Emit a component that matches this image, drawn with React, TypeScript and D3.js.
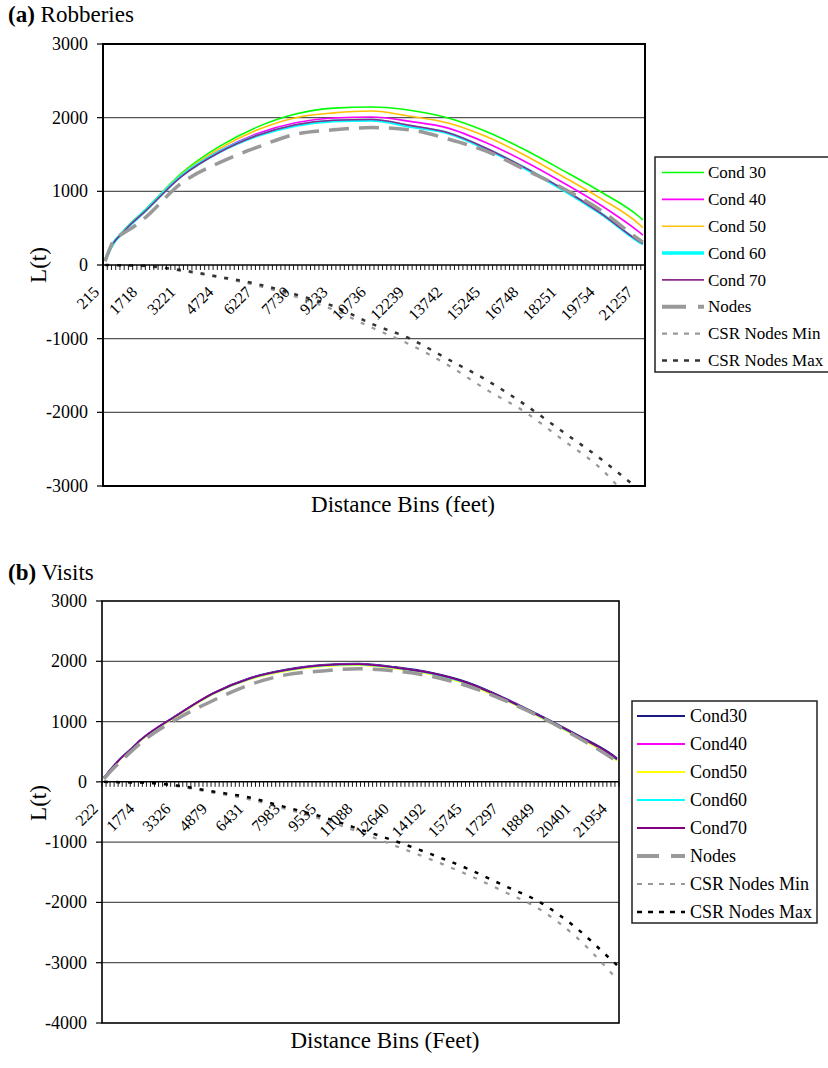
import * as d3 from "d3";

const FONT = "Liberation Serif, DejaVu Serif, Times New Roman, serif";

// ---------- (a) Robberies ----------
const binStartA = 215;
const binStepA = 1503 / 9;
const binCountA = 128;
const tickLabelsA = ["215", "1718", "3221", "4724", "6227", "7730", "9233", "10736", "12239", "13742", "15245", "16748", "18251", "19754", "21257"];
const feetA = [215, 549, 883, 1217, 1718, 3221, 4724, 6227, 7730, 9233, 10736, 12239, 13742, 15245, 16748, 18251, 19754, 21257, 21424];
const cond30A = [70, 305, 440, 565, 725, 1245, 1610, 1875, 2050, 2130, 2145, 2100, 1995, 1811, 1568, 1288, 995, 662, 611];
const cond40A = [70, 300, 435, 555, 715, 1215, 1550, 1785, 1930, 1995, 2010, 1950, 1858, 1659, 1409, 1123, 814, 453, 407];
const cond50A = [70, 300, 435, 560, 720, 1230, 1580, 1835, 2000, 2065, 2090, 2020, 1927, 1743, 1493, 1204, 905, 559, 506];
const cond60A = [70, 300, 430, 550, 710, 1210, 1535, 1756, 1895, 1955, 1965, 1880, 1790, 1575, 1318, 1027, 701, 320, 285];
const cond70A = [70, 300, 430, 550, 705, 1200, 1530, 1760, 1905, 1965, 1975, 1895, 1795, 1585, 1325, 1035, 705, 325, 290];
const nodesA = [50, 330, 420, 490, 620, 1110, 1390, 1600, 1775, 1835, 1865, 1835, 1710, 1545, 1300, 1045, 745, 350, 310];
const csrMinA = [0, -3, -6, -9, -15, -80, -170, -280, -430, -610, -850, -1080, -1360, -1690, -1990, -2370, -2760, -3300, -3350];
const csrMaxA = [0, -2, -4, -6, -10, -70, -160, -260, -400, -560, -800, -1000, -1280, -1560, -1890, -2260, -2630, -3050, -3100];
const yTicksA = [-3000, -2000, -1000, 0, 1000, 2000, 3000];

// ---------- (b) Visits ----------
const binStartB = 222;
const binStepB = 1552 / 9;
const binCountB = 128;
const tickLabelsB = ["222", "1774", "3326", "4879", "6431", "7983", "9535", "11088", "12640", "14192", "15745", "17297", "18849", "20401", "21954"];
const feetB = [222, 567, 912, 1257, 1774, 3326, 4879, 6431, 7983, 9535, 11088, 12640, 14192, 15745, 17297, 18849, 20401, 21954, 22122];
const cond30B = [70, 235, 385, 505, 690, 1105, 1470, 1720, 1860, 1940, 1960, 1905, 1810, 1650, 1395, 1100, 785, 440, 390];
const cond40B = [70, 230, 380, 500, 690, 1100, 1465, 1712, 1850, 1930, 1952, 1895, 1800, 1635, 1380, 1085, 770, 420, 370];
const cond50B = [65, 225, 375, 495, 680, 1090, 1455, 1700, 1835, 1915, 1935, 1880, 1785, 1618, 1362, 1068, 752, 400, 350];
const cond60B = [70, 230, 380, 500, 690, 1100, 1462, 1710, 1848, 1928, 1950, 1892, 1797, 1632, 1377, 1082, 767, 417, 367];
const cond70B = [70, 232, 382, 502, 692, 1102, 1467, 1714, 1852, 1932, 1954, 1896, 1802, 1638, 1382, 1088, 772, 423, 372];
const nodesB = [50, 200, 330, 460, 640, 1040, 1350, 1610, 1775, 1840, 1875, 1840, 1750, 1590, 1357, 1078, 747, 380, 332];
const csrMinB = [0, -4, -7, -10, -15, -70, -180, -290, -450, -620, -830, -1060, -1290, -1540, -1820, -2120, -2580, -3200, -3270];
const csrMaxB = [0, -3, -5, -8, -10, -60, -160, -260, -420, -580, -780, -980, -1200, -1440, -1720, -2000, -2430, -2980, -3040];
const yTicksB = [-4000, -3000, -2000, -1000, 0, 1000, 2000, 3000];

type Series = {
  name: string;
  values: number[];
  color: string;
  width: number;
  dash?: string;
  legendWidth?: number;
  legendDash?: string;
};

const seriesA: Series[] = [
  { name: "Cond 30", values: cond30A, color: "#00ff00", width: 1.6 },
  { name: "Cond 40", values: cond40A, color: "#ff00ff", width: 1.6 },
  { name: "Cond 50", values: cond50A, color: "#ffc000", width: 1.6 },
  { name: "Cond 60", values: cond60A, color: "#00ffff", width: 3, legendWidth: 3.5 },
  { name: "Cond 70", values: cond70A, color: "#8b2b8b", width: 1.6 },
  { name: "Nodes", values: nodesA, color: "#999999", width: 3.5, dash: "20 10", legendWidth: 4, legendDash: "24 12" },
  { name: "CSR Nodes Min", values: csrMinA, color: "#999999", width: 2.2, dash: "4 8", legendDash: "5 6" },
  { name: "CSR Nodes Max", values: csrMaxA, color: "#333333", width: 2.5, dash: "4 8", legendDash: "5 6" },
];

const seriesB: Series[] = [
  { name: "Cond30", values: cond30B, color: "#1a1a80", width: 1.8 },
  { name: "Cond40", values: cond40B, color: "#ff00ff", width: 1.8 },
  { name: "Cond50", values: cond50B, color: "#ffff00", width: 1.8 },
  { name: "Cond60", values: cond60B, color: "#00ffff", width: 1.8 },
  { name: "Cond70", values: cond70B, color: "#800080", width: 1.8 },
  { name: "Nodes", values: nodesB, color: "#999999", width: 3.5, dash: "20 10", legendWidth: 4, legendDash: "22 12" },
  { name: "CSR Nodes Min", values: csrMinB, color: "#999999", width: 2.2, dash: "4 8", legendDash: "5 6" },
  { name: "CSR Nodes Max", values: csrMaxB, color: "#000000", width: 2.5, dash: "4 8", legendDash: "5 6" },
];

function Chart({ cfg }: { cfg: any }) {
  const { id, plot, yDomain, yTicks, binStart, binStep, binCount, tickLabels, feet, series, legend } = cfg;

  const x = d3
    .scaleLinear()
    .domain([binStart - binStep / 2, binStart + (binCount - 0.5) * binStep])
    .range([plot.left, plot.right]);
  const y = d3.scaleLinear().domain(yDomain).range([plot.bottom, plot.top]);
  const y0 = y(0);

  const line = d3
    .line<number>()
    .x((_, i) => x(feet[i]))
    .y((d) => y(d))
    .curve(d3.curveMonotoneX);

  const catTicks = d3.range(binCount + 1).map((i) => x(binStart + (i - 0.5) * binStep));

  return (
    <g>
      {/* title */}
      <text x={8} y={cfg.titleY} fontSize={23}>
        <tspan fontWeight="bold">{cfg.titleTag}</tspan> {cfg.title}
      </text>

      {/* gridlines */}
      {yTicks
        .filter((t: number) => t !== 0 && t !== yDomain[0] && t !== yDomain[1])
        .map((t: number) => (
          <line key={t} x1={plot.left} x2={plot.right} y1={y(t)} y2={y(t)} stroke="#555" strokeWidth={1.3} />
        ))}

      {/* y ticks and labels */}
      {yTicks.map((t: number) => (
        <g key={"yt" + t}>
          <line x1={plot.left - 6} x2={plot.left} y1={y(t)} y2={y(t)} stroke="#000" strokeWidth={1.2} />
          <text x={plot.left - 15} y={y(t)} dy="0.33em" textAnchor="end" fontSize={18}>
            {t}
          </text>
        </g>
      ))}

      {/* series */}
      <clipPath id={id}>
        <rect x={plot.left} y={plot.top} width={plot.right - plot.left} height={plot.bottom - plot.top} />
      </clipPath>
      <g clipPath={`url(#${id})`}>
        {series.map((s: Series) => (
          <path
            key={s.name}
            d={line(s.values) || ""}
            fill="none"
            stroke={s.color}
            strokeWidth={s.width}
            strokeDasharray={s.dash}
          />
        ))}
      </g>

      {/* x axis along zero */}
      <line x1={plot.left} x2={plot.right} y1={y0} y2={y0} stroke="#000" strokeWidth={1.5} />
      {catTicks.map((tx: number, i: number) => (
        <line key={"ct" + i} x1={tx} x2={tx} y1={y0} y2={y0 + 5} stroke="#000" strokeWidth={0.9} />
      ))}
      {tickLabels.map((l: string) => {
        const ax = x(+l) - 5;
        const ay = y0 + 28;
        return (
          <text key={"xl" + l} x={ax} y={ay} textAnchor="end" fontSize={16} transform={`rotate(-45 ${ax} ${ay})`}>
            {l}
          </text>
        );
      })}

      {/* plot border */}
      <rect
        x={plot.left}
        y={plot.top}
        width={plot.right - plot.left}
        height={plot.bottom - plot.top}
        fill="none"
        stroke="#000"
        strokeWidth={cfg.border}
      />

      {/* axis titles */}
      <text
        x={38}
        y={cfg.yTitleY}
        textAnchor="middle"
        fontSize={23}
        transform={`rotate(-90 38 ${cfg.yTitleY})`}
        dy="0.35em"
      >
        L(t)
      </text>
      <text x={cfg.xTitleX} y={cfg.xTitleY} textAnchor="middle" fontSize={23}>
        {cfg.xTitle}
      </text>

      {/* legend */}
      <rect x={legend.x} y={legend.y} width={legend.w} height={legend.h} fill="#fff" stroke="#222" strokeWidth={1.5} />
      {series.map((s: Series, i: number) => {
        const ly = legend.y + legend.first + i * legend.step;
        return (
          <g key={"lg" + s.name}>
            <line
              x1={legend.lineX1}
              x2={legend.lineX2}
              y1={ly}
              y2={ly}
              stroke={s.color}
              strokeWidth={s.legendWidth ?? s.width}
              strokeDasharray={s.legendDash}
            />
            <text x={legend.textX} y={ly} dy="0.33em" fontSize={legend.fontSize}>
              {s.name}
            </text>
          </g>
        );
      })}
    </g>
  );
}

const cfgA = {
  id: "clipA",
  titleTag: "(a)",
  title: "Robberies",
  titleY: 22,
  plot: { left: 103, right: 645, top: 44, bottom: 486 },
  border: 2,
  yDomain: [-3000, 3000],
  yTicks: yTicksA,
  binStart: binStartA,
  binStep: binStepA,
  binCount: binCountA,
  tickLabels: tickLabelsA,
  feet: feetA,
  series: seriesA,
  yTitleY: 265,
  xTitle: "Distance Bins (feet)",
  xTitleX: 403,
  xTitleY: 512,
  legend: { x: 655, y: 157, w: 200, h: 215, first: 15.5, step: 26.85, lineX1: 662, lineX2: 704, textX: 708, fontSize: 17 },
};

const cfgB = {
  id: "clipB",
  titleTag: "(b)",
  title: "Visits",
  titleY: 580,
  plot: { left: 102, right: 619, top: 601, bottom: 1023 },
  border: 1.6,
  yDomain: [-4000, 3000],
  yTicks: yTicksB,
  binStart: binStartB,
  binStep: binStepB,
  binCount: binCountB,
  tickLabels: tickLabelsB,
  feet: feetB,
  series: seriesB,
  yTitleY: 803,
  xTitle: "Distance Bins (Feet)",
  xTitleX: 385,
  xTitleY: 1048,
  legend: { x: 632, y: 701, w: 185, h: 222, first: 15, step: 28, lineX1: 637, lineX2: 685, textX: 690, fontSize: 18 },
};

export default function App() {
  return (
    <svg
      width={828}
      height={1068}
      viewBox="0 0 828 1068"
      style={{ position: "absolute", left: 0, top: 0, background: "#fff", fontFamily: FONT }}
    >
      <rect width={828} height={1068} fill="#fff" />
      <Chart cfg={cfgA} />
      <Chart cfg={cfgB} />
    </svg>
  );
}
